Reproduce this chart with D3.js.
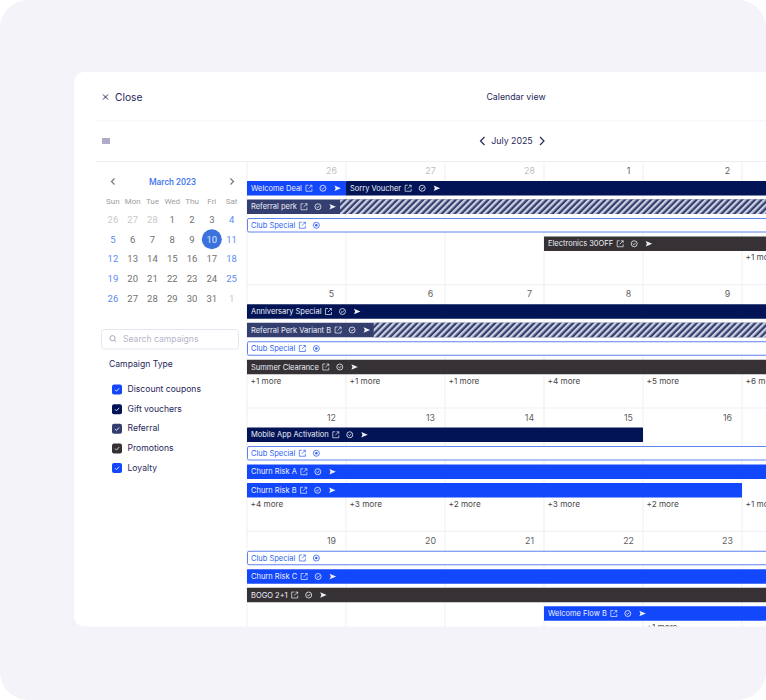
<!DOCTYPE html>
<html>
<head>
<meta charset="utf-8">
<title>Calendar view</title>
<script src="https://cdn.jsdelivr.net/npm/d3@7"></script>
<style>
  html, body { margin: 0; padding: 0; background: #fff; overflow: hidden; }
  svg { display: block; }
  text { font-family: Inter, sans-serif; }
  .mini text { font-family: Roboto, sans-serif; }
</style>
</head>
<body>
<svg id="chart" width="766" height="700"></svg>
<script>
// ── Data ──────────────────────────────────────────────────
const weekDates = [
  [26, 27, 28, 1, 2, 3, 4],
  [5, 6, 7, 8, 9, 10, 11],
  [12, 13, 14, 15, 16, 17, 18],
  [19, 20, 21, 22, 23, 24, 25]
];
const mutedDates = [26, 27, 28]; // only in the first week

const campaignNames = ['Welcome Deal', 'Sorry Voucher', 'Referral perk', 'Club Special', 'Electronics 30OFF',
  'Anniversary Special', 'Referral Perk Variant B', 'Club Special', 'Summer Clearance',
  'Mobile App Activation', 'Club Special', 'Churn Risk A', 'Churn Risk B',
  'Club Special', 'Churn Risk C', 'BOGO 2+1', 'Welcome Flow B'];
const campaignTypes = ['loyalty', 'voucher', 'referral', 'club', 'promo',
  'voucher', 'referral', 'club', 'promo',
  'voucher', 'club', 'loyalty', 'loyalty',
  'club', 'loyalty', 'promo', 'loyalty'];
const campaignWeeks = [0, 0, 0, 0, 0, 1, 1, 1, 1, 2, 2, 2, 2, 3, 3, 3, 3];
const campaignLanes = [0, 0, 1, 2, 3, 0, 1, 2, 3, 0, 1, 2, 3, 0, 1, 2, 3];
const campaignStarts = [0, 1, 0, 0, 3, 0, 0, 0, 0, 0, 0, 0, 0, 0, 0, 0, 3];
const campaignEnds = [1, 7, 7, 7, 7, 7, 7, 7, 7, 4, 7, 7, 5, 7, 7, 7, 7];
const campaignHatchFrom = [null, null, 0.94, null, null, null, 1.28, null, null, null, null, null, null, null, null, null, null];

const moreWeeks = [0, 1, 1, 1, 1, 1, 1, 2, 2, 2, 2, 2, 2, 3];
const moreDays = [5, 0, 1, 2, 3, 4, 5, 0, 1, 2, 3, 4, 5, 4];
const moreCounts = [1, 1, 1, 1, 4, 5, 6, 4, 3, 2, 3, 2, 1, 1];

const miniDayNames = ['Sun', 'Mon', 'Tue', 'Wed', 'Thu', 'Fri', 'Sat'];
const miniDates = [
  [26, 27, 28, 1, 2, 3, 4],
  [5, 6, 7, 8, 9, 10, 11],
  [12, 13, 14, 15, 16, 17, 18],
  [19, 20, 21, 22, 23, 24, 25],
  [26, 27, 28, 29, 30, 31, 1]
];
const campaignFilters = ['Discount coupons', 'Gift vouchers', 'Referral', 'Promotions', 'Loyalty'];
const filterTypes = ['loyalty', 'voucher', 'referral', 'promo', 'loyalty'];

// ── Styles ────────────────────────────────────────────────
const TYPE_COLORS = {
  loyalty: '#1347fb',
  voucher: '#021456',
  referral: '#353f6f',
  promo: '#353135',
  club: '#ffffff'
};
const INK = '#27275a';
const GRID = '#efeff3';

// ── Scales ────────────────────────────────────────────────
const dayX = d3.scaleLinear().domain([0, 7]).range([247, 940]);
const weekY = d3.scaleLinear().domain([0, 4]).range([161.5, 654.5]);
const laneY = d3.scaleLinear().domain([0, 1]).range([19.5, 38]);
const miniX = d3.scaleBand().domain(d3.range(7)).range([103, 241.5]);
const miniY = d3.scaleLinear().domain([0, 4]).range([219.5, 298.5]);
const filterY = d3.scaleLinear().domain([0, 4]).range([389.5, 468]);

const svg = d3.select('#chart');

// ── Page + card ───────────────────────────────────────────
svg.append('rect').attr('width', 766).attr('height', 700).attr('rx', 28).attr('fill', '#f3f3f9');

const defs = svg.append('defs');
defs.append('clipPath').attr('id', 'card-clip')
  .append('rect').attr('x', 74).attr('y', 72).attr('width', 800).attr('height', 554.5).attr('rx', 10);

const hatch = defs.append('pattern').attr('id', 'hatch')
  .attr('patternUnits', 'userSpaceOnUse').attr('width', 4.6).attr('height', 4.6)
  .attr('patternTransform', 'rotate(45)');
hatch.append('rect').attr('width', 4.6).attr('height', 4.6).attr('fill', '#353f6f');
hatch.append('rect').attr('width', 2.3).attr('height', 4.6).attr('fill', '#cdd2e2');

const card = svg.append('g').attr('clip-path', 'url(#card-clip)');
card.append('rect').attr('x', 74).attr('y', 72).attr('width', 800).attr('height', 560).attr('fill', '#fff');

// ── Header ────────────────────────────────────────────────
function chevron(g, x, y, dir, color, size) {
  g.append('path')
    .attr('d', `M${x - dir * size / 2},${y - size} L${x + dir * size / 2},${y} L${x - dir * size / 2},${y + size}`)
    .attr('fill', 'none').attr('stroke', color).attr('stroke-width', 1.2);
}

card.append('path').attr('d', 'M103,94.5 L108,99.5 M108,94.5 L103,99.5')
  .attr('stroke', INK).attr('stroke-width', 1);
card.append('text').attr('x', 115).attr('y', 97).attr('dy', '.35em')
  .attr('font-size', 10.2).attr('fill', INK).text('Close');
card.append('text').attr('x', 516).attr('y', 96.5).attr('dy', '.35em').attr('text-anchor', 'middle')
  .attr('font-size', 8.8).attr('fill', INK).text('Calendar view');

card.append('line').attr('x1', 96).attr('x2', 766).attr('y1', 121).attr('y2', 121).attr('stroke', '#f3f3f6');
card.append('line').attr('x1', 96).attr('x2', 766).attr('y1', 161.5).attr('y2', 161.5).attr('stroke', GRID);

[139, 141, 143].forEach(y => {
  card.append('line').attr('x1', 102).attr('x2', 110).attr('y1', y).attr('y2', y)
    .attr('stroke', '#5c5a8a').attr('stroke-width', 1);
});
chevron(card, 482.5, 141, -1, INK, 4);
chevron(card, 542, 141, 1, INK, 4);
card.append('text').attr('x', 512).attr('y', 141).attr('dy', '.35em').attr('text-anchor', 'middle')
  .attr('font-size', 8.8).attr('fill', INK).text('July 2025');

// ── Mini calendar ─────────────────────────────────────────
const mini = card.append('g').attr('class', 'mini');
const miniCx = i => miniX(i) + miniX.bandwidth() / 2;

chevron(mini, 113, 181.5, -1, '#777', 3);
chevron(mini, 232, 181.5, 1, '#777', 3);
mini.append('text').attr('x', 172.5).attr('y', 181.5).attr('dy', '.35em').attr('text-anchor', 'middle')
  .attr('font-size', 8.8).attr('font-weight', 500).attr('fill', '#4477ee').text('March 2023');

mini.selectAll('.dow').data(miniDayNames).enter().append('text')
  .attr('class', 'dow')
  .attr('x', (d, i) => miniCx(i)).attr('y', 201).attr('dy', '.35em').attr('text-anchor', 'middle')
  .attr('font-size', 8).attr('fill', '#a0a0a0').text(d => d);

mini.append('circle').attr('cx', miniCx(5)).attr('cy', miniY(1)).attr('r', 10).attr('fill', '#3b72de');

miniDates.forEach((row, r) => {
  row.forEach((d, c) => {
    const outside = (r === 0 && d > 20) || (r === 4 && d < 20);
    const selected = r === 1 && c === 5;
    let color = '#707070';
    if (c === 0 || c === 6) color = '#5b8bee';
    if (outside) color = '#c8c8c8';
    if (selected) color = '#dfe8fb';
    mini.append('text').attr('x', miniCx(c)).attr('y', miniY(r)).attr('dy', '.35em').attr('text-anchor', 'middle')
      .attr('font-size', 9.5).attr('fill', color).text(d);
  });
});

// ── Search + filters ──────────────────────────────────────
card.append('rect').attr('x', 101.5).attr('y', 329.5).attr('width', 137).attr('height', 19.5).attr('rx', 3)
  .attr('fill', '#fff').attr('stroke', '#e6e6f1');
card.append('circle').attr('cx', 112.5).attr('cy', 338.2).attr('r', 2.6)
  .attr('fill', 'none').attr('stroke', '#9c9cb4').attr('stroke-width', 0.9);
card.append('line').attr('x1', 114.4).attr('y1', 340.1).attr('x2', 116.4).attr('y2', 342.1)
  .attr('stroke', '#9c9cb4').attr('stroke-width', 0.9);
card.append('text').attr('x', 123).attr('y', 338.5).attr('dy', '.35em')
  .attr('font-size', 8.6).attr('fill', '#b4b4ca').text('Search campaigns');
card.append('text').attr('x', 109).attr('y', 364).attr('dy', '.35em')
  .attr('font-size', 8.6).attr('fill', INK).text('Campaign Type');

campaignFilters.forEach((name, i) => {
  const y = filterY(i);
  card.append('rect').attr('x', 112).attr('y', y - 5).attr('width', 10).attr('height', 10).attr('rx', 2)
    .attr('fill', TYPE_COLORS[filterTypes[i]]);
  card.append('path').attr('d', `M115,${y + 0.2} L116.5,${y + 1.7} L119.2,${y - 1.3}`)
    .attr('fill', 'none').attr('stroke', '#fff').attr('stroke-width', 0.8);
  card.append('text').attr('x', 127.5).attr('y', y - 0.5).attr('dy', '.35em')
    .attr('font-size', 8.6).attr('fill', INK).text(name);
});

// ── Month grid ────────────────────────────────────────────
const grid = card.append('g');
d3.range(0, 8).forEach(i => {
  grid.append('line').attr('x1', dayX(i)).attr('x2', dayX(i)).attr('y1', 161.5).attr('y2', 640)
    .attr('stroke', GRID);
});
d3.range(1, 4).forEach(w => {
  grid.append('line').attr('x1', 247).attr('x2', 766).attr('y1', weekY(w)).attr('y2', weekY(w))
    .attr('stroke', GRID);
});

weekDates.forEach((dates, w) => {
  // the last two columns run off the card, so their dates are never seen
  grid.selectAll(`.date-${w}`).data(dates.slice(0, 5)).enter().append('text')
    .attr('x', (d, i) => dayX(i + 1) - 14.5)
    .attr('y', weekY(w) + 9.5).attr('dy', '.35em').attr('text-anchor', 'middle')
    .attr('font-size', 8.8)
    .attr('fill', d => (w === 0 && mutedDates.includes(d)) ? '#c0c0c0' : '#606060')
    .text(d => d);
});

// ── Campaign bars ─────────────────────────────────────────
function drawIcons(g, x, y, color, isClub) {
  // open-in-new box
  g.append('path')
    .attr('d', `M${x + 2.5},${y - 3} H${x} V${y + 3} H${x + 6} V${y + 0.5} M${x + 2.5},${y + 0.5} L${x + 6},${y - 3} M${x + 3.8},${y - 3} H${x + 6} V${y - 0.8}`)
    .attr('fill', 'none').attr('stroke', color).attr('stroke-width', 0.7);
  const cx = x + 17;
  g.append('circle').attr('cx', cx).attr('cy', y).attr('r', 3)
    .attr('fill', 'none').attr('stroke', color).attr('stroke-width', 0.8);
  if (isClub) {
    g.append('circle').attr('cx', cx).attr('cy', y).attr('r', 1.2).attr('fill', color);
    return;
  }
  g.append('path').attr('d', `M${cx - 1.4},${y} L${cx - 0.3},${y + 1} L${cx + 1.5},${y - 1}`)
    .attr('fill', 'none').attr('stroke', color).attr('stroke-width', 0.8);
  const sx = cx + 11.5;
  g.append('path').attr('d', `M${sx},${y - 2.8} L${sx + 6.5},${y} L${sx},${y + 2.8} L${sx + 1.2},${y} Z`)
    .attr('fill', color);
}

campaignNames.forEach((name, i) => {
  const type = campaignTypes[i];
  const isClub = type === 'club';
  const y = weekY(campaignWeeks[i]) + laneY(campaignLanes[i]);
  const x0 = dayX(campaignStarts[i]);
  const x1 = dayX(campaignEnds[i]);
  const h = 14.5;
  const g = card.append('g');

  g.append('rect').attr('x', isClub ? x0 + 0.5 : x0).attr('y', isClub ? y + 0.5 : y)
    .attr('width', x1 - x0).attr('height', isClub ? h - 1 : h).attr('rx', isClub ? 1.5 : 0.5)
    .attr('fill', TYPE_COLORS[type])
    .attr('stroke', isClub ? '#5f83ee' : 'none');

  if (campaignHatchFrom[i] !== null) {
    const hx = dayX(campaignHatchFrom[i]);
    g.append('rect').attr('x', hx).attr('y', y).attr('width', x1 - hx).attr('height', h)
      .attr('fill', 'url(#hatch)');
  }

  const color = isClub ? '#2b5ff2' : '#eef0f8';
  const label = g.append('text').attr('x', x0 + 4).attr('y', y + h / 2).attr('dy', '.35em')
    .attr('font-size', 7.5).attr('fill', color).text(name);
  const textEnd = x0 + 4 + label.node().getComputedTextLength();
  drawIcons(g, textEnd + 4, y + h / 2, color, isClub);
});

// ── "+N more" links ───────────────────────────────────────
moreCounts.forEach((n, i) => {
  card.append('text').attr('x', dayX(moreDays[i]) + 3.5).attr('y', weekY(moreWeeks[i]) + 96).attr('dy', '.35em')
    .attr('font-size', 8.2).attr('fill', '#484848').text(`+${n} more`);
});
</script>
</body>
</html>
